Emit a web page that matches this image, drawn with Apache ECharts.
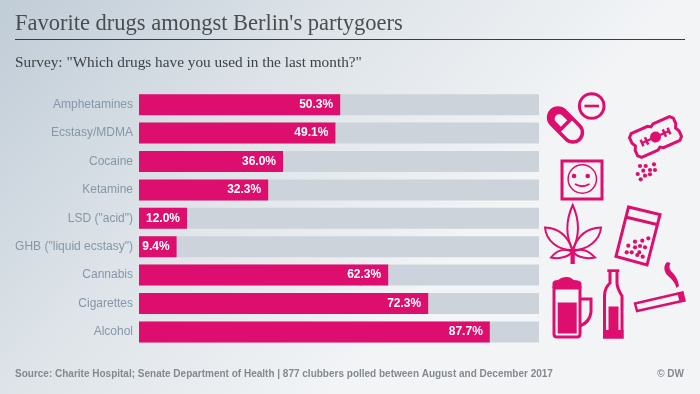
<!DOCTYPE html>
<html>
<head>
<meta charset="utf-8">
<style>html,body{margin:0;padding:0}#main{width:700px;height:394px}</style>
<script src="https://cdn.jsdelivr.net/npm/echarts@6/dist/echarts.min.js"></script>
</head>
<body>
<div id="main"></div>
<script>
const categories = ['Amphetamines', 'Ecstasy/MDMA', 'Cocaine', 'Ketamine', 'LSD ("acid")', 'GHB ("liquid ecstasy")', 'Cannabis', 'Cigarettes', 'Alcohol'];
const shares = [50.3, 49.1, 36.0, 32.3, 12.0, 9.4, 62.3, 72.3, 87.7];

const pink = '#dd0e6e';

// the graphic component has no plain path type, so each icon path gets its own shape class
let shapeCount = 0;
const pathType = (d) => {
  const name = 'iconPath' + shapeCount++;
  echarts.graphic.registerShape(name, echarts.graphic.extendPath(d, {}));
  return name;
};
const line = (d, w) => ({type: pathType(d), style: {fill: 'none', stroke: pink, lineWidth: w || 3}, silent: true});
const solid = (d) => ({type: pathType(d), style: {fill: pink}, silent: true});
const dot = (x, y, r) => ({type: 'circle', shape: {cx: x, cy: y, r: r || 2}, style: {fill: pink}, silent: true});
const ring = (x, y, r, w) => ({type: 'circle', shape: {cx: x, cy: y, r: r}, style: {fill: 'none', stroke: pink, lineWidth: w}, silent: true});

const pillDots = [[640, 166], [645.7, 166], [654, 164.3], [637.7, 174], [643.3, 170.7], [650, 170], [655, 170], [640.7, 179.3], [645, 175.7], [650, 174.3]];
const bagDots = [[648.3, 238.3], [642.3, 240.7], [635, 241.7], [640, 246], [628.3, 245.7], [645, 247.3], [635, 247.3], [631.7, 252.3], [626.7, 252.3], [639.3, 252.3], [637.3, 255], [642.7, 256.7]];

const icons = [
  // pill and tablet
  ring(591.7, 106, 12.3, 3),
  solid('M584.5 104.7H599V107.3H584.5Z'),
  {type: 'group', x: 565.5, y: 125, rotation: Math.PI / 4, children: [
    {type: 'rect', shape: {x: -9.5, y: -20, width: 19, height: 40, r: 9.5}, style: {fill: 'none', stroke: pink, lineWidth: 3.5}, silent: true},
    solid('M-9.5 -10A9.5 9.5 0 0 1 9.5 -10V0H4.5V-9A4.5 4.5 0 0 0 -4.5 -9V0H-9.5Z'),
    {type: 'rect', shape: {x: -9.5, y: -2, width: 19, height: 3.5}, style: {fill: pink}, silent: true}
  ]},
  // razor blade
  {type: 'group', x: 655.5, y: 137, rotation: 0.42, children: [
    line('M-21 -13L-24 -10V-4L-22 0L-24 4V10L-21 13H-3L0 11L3 13H21L24 10V4L22 0L24 -4V-10L21 -13H3L0 -11L-3 -13Z', 3),
    solid('M-16 -1.2H16V1.2H-16Z M-16 -3.5H-13.5V3.5H-16Z M-11 -4H-8.5V4H-11Z M8.5 -4H11V4H8.5Z M13.5 -3.5H16V3.5H13.5Z'),
    dot(0, 0, 5.5)
  ]},
  ...pillDots.map(p => dot(p[0], p[1], 2.1)),
  // smiley card
  line('M562 161H602V199H562Z', 3),
  ring(582.3, 179, 14.2, 1.5),
  dot(574, 176, 2.3),
  dot(587.7, 176, 2.3),
  line('M575 184Q582.3 188.5 589.5 184', 1.8),
  // cannabis leaf
  line('M572.7 250C565 235 566 220 572.7 205C579.5 220 580 235 572.7 250Z', 2),
  line('M573 250C578 233 590 228 601 227.5C600 240 588 250 573 250Z', 2),
  line('M572.4 250C567 233 556 228 545 227.5C546 240 557 250 572.4 250Z', 2),
  line('M573 252C580 248 588 250 595 257.5C588 259 578 258 573 252Z', 2),
  line('M572.4 252C565 248 557 250 551 257.5C557 259 567 258 572.4 252Z', 2),
  solid('M570.5 250H574.8V264H570.5Z'),
  // baggie
  line('M628.5 207L660 214.5L647 265L616 256.5Z', 3),
  line('M625.5 217L657 224.5', 3),
  ...bagDots.map(p => dot(p[0], p[1], 2.1)),
  // beer mug
  line('M554 288V334Q554 337 557 337H577Q580 337 580 334V288Z', 3),
  solid('M557.7 302.5H576.7V333.5H557.7Z'),
  line('M580 299H591V312Q590 322 580 326', 3),
  solid('M552.5 288V283Q553 280 558 280Q562 276.5 567 277Q571 277 573.5 280Q580 280 581.5 283V288Z'),
  // bottle
  solid('M607.3 269.3H619.3V272H607.3Z'),
  line('M610 271V283Q604.5 288 604.5 296V337H622V296Q617 288 617 283V271', 3),
  solid('M608.5 306.5H618.5V330H608.5Z'),
  solid('M603 330H623.5V338.5H603Z'),
  // cigarette
  line('M635 303.5L682.5 292.5L684.5 300.5L637 311Z', 2.4),
  solid('M677.5 293L683 291.5L685 300.5L679.5 302Z'),
  solid('M667 262C663 266 664 271 667 275C670 278 674 280 676.5 288L679 286C678 279 675 275 672 272C669 269 669 266 670.5 263Z')
];

const chart = echarts.init(document.getElementById('main'));
chart.setOption({
  animation: false,
  backgroundColor: new echarts.graphic.LinearGradient(0, 0, 0.55, 0.85, [
    {offset: 0, color: '#c0ccd7'},
    {offset: 0.5, color: '#dde3e8'},
    {offset: 1, color: '#f2f4f6'}
  ]),
  title: [
    {text: "Favorite drugs amongst Berlin's partygoers", left: 15, top: 13, padding: 0, textStyle: {fontFamily: 'Liberation Serif', fontWeight: 'normal', fontSize: 22.5, color: '#4a4d50'}},
    {text: 'Survey: "Which drugs have you used in the last month?"', left: 15, top: 55, padding: 0, textStyle: {fontFamily: 'Liberation Serif', fontWeight: 'normal', fontSize: 15.3, color: '#3f4245'}},
    {text: 'Source: Charite Hospital; Senate Department of Health | 877 clubbers polled between August and December 2017', left: 15, top: 369, padding: 0, textStyle: {fontFamily: 'Liberation Sans', fontWeight: 'bold', fontSize: 10, color: '#83898f'}},
    {text: '© DW', right: 16, top: 369, padding: 0, textStyle: {fontFamily: 'Liberation Sans', fontWeight: 'bold', fontSize: 10, color: '#83898f'}}
  ],
  graphic: [
    {type: 'line', shape: {x1: 15, y1: 39.5, x2: 685, y2: 39.5}, style: {stroke: '#3a3d40', lineWidth: 1}, silent: true},
    ...icons
  ],
  grid: {left: 139, top: 90.5, width: 400, height: 255.6},
  xAxis: {type: 'value', min: 0, max: 100, show: false},
  yAxis: {
    type: 'category',
    inverse: true,
    data: categories,
    axisLine: {show: false},
    axisTick: {show: false},
    axisLabel: {margin: 6, color: '#8497a8', fontFamily: 'Liberation Sans', fontSize: 12}
  },
  series: [{
    type: 'bar',
    data: shares,
    barWidth: 21,
    showBackground: true,
    backgroundStyle: {color: '#ccd3da'},
    itemStyle: {color: pink},
    label: {
      show: true,
      position: 'insideRight',
      distance: 7,
      color: '#fff',
      fontFamily: 'Liberation Sans',
      fontWeight: 'bold',
      fontSize: 12,
      formatter: (p) => p.value.toFixed(1) + '%'
    }
  }]
});
</script>
</body>
</html>
